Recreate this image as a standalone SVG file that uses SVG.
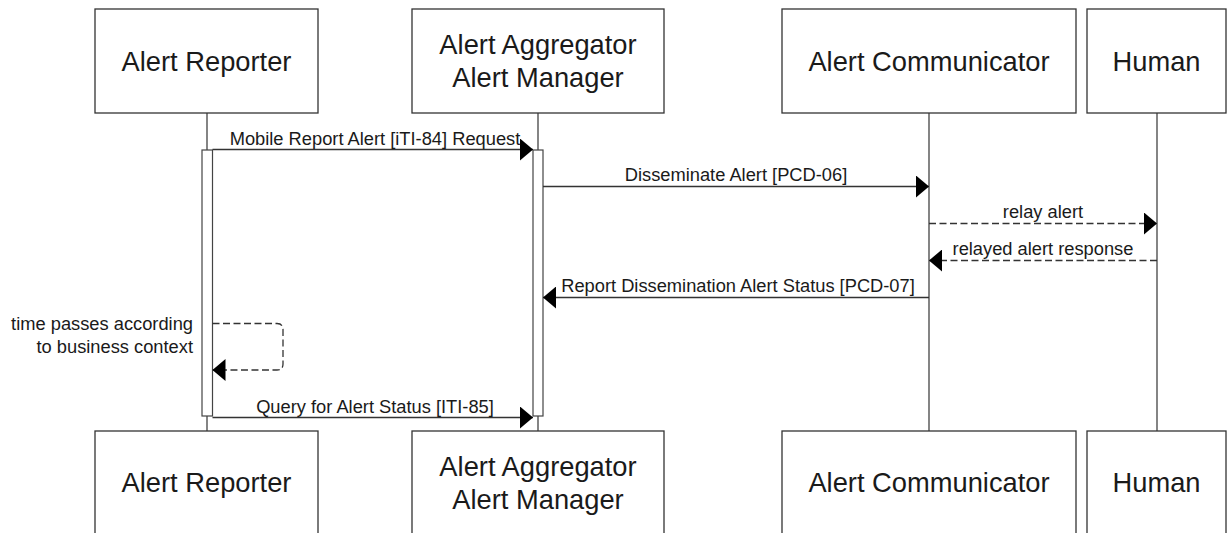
<svg xmlns="http://www.w3.org/2000/svg" width="1227" height="533" viewBox="0 0 1227 533">
<style>
.box{fill:#fff;stroke:#333;stroke-width:1.3}
.life{stroke:#333;stroke-width:1.2;fill:none}
.bar{fill:#fff;stroke:#444;stroke-width:1.2}
.msg{stroke:#333;stroke-width:1.3;fill:none}
.dash{stroke-dasharray:7 3.5}
.bt{font-family:"Liberation Sans",Arial,sans-serif;font-size:27.3px;fill:#1a1a1a;text-anchor:middle}
.lt{font-family:"Liberation Sans",Arial,sans-serif;font-size:18.3px;fill:#1a1a1a;text-anchor:middle}
</style>
<defs>
<marker id="ah" markerUnits="userSpaceOnUse" markerWidth="13" markerHeight="22" refX="13" refY="11" orient="auto" viewBox="0 0 13 22">
<path d="M0,0 L13,11 L0,22 Z" fill="#000"/>
</marker>
</defs>
<rect width="1227" height="533" fill="#fff"/>
<g id="lifelines">
<line class="life" x1="207" y1="113" x2="207" y2="431"/>
<line class="life" x1="538" y1="113" x2="538" y2="431"/>
<line class="life" x1="929" y1="113" x2="929" y2="431"/>
<line class="life" x1="1157" y1="113" x2="1157" y2="431"/>
</g>
<g id="activations">
<rect class="bar" x="202" y="150" width="10.5" height="266"/>
<rect class="bar" x="533" y="150" width="10" height="266"/>
</g>
<g id="reporter-top"><rect class="box" x="95" y="9" width="223" height="104"/><text class="bt" x="206.5" y="71">Alert Reporter</text></g>
<g id="aggregator-top"><rect class="box" x="412" y="9" width="252" height="104"/><text class="bt" x="538" y="54">Alert Aggregator</text><text class="bt" x="538" y="87">Alert Manager</text></g>
<g id="communicator-top"><rect class="box" x="782" y="9" width="294" height="104"/><text class="bt" x="929" y="71">Alert Communicator</text></g>
<g id="human-top"><rect class="box" x="1087" y="9" width="139" height="104"/><text class="bt" x="1156.5" y="71">Human</text></g>
<g id="reporter-bottom"><rect class="box" x="95" y="431" width="223" height="104"/><text class="bt" x="206.5" y="492">Alert Reporter</text></g>
<g id="aggregator-bottom"><rect class="box" x="412" y="431" width="252" height="104"/><text class="bt" x="538" y="476">Alert Aggregator</text><text class="bt" x="538" y="509">Alert Manager</text></g>
<g id="communicator-bottom"><rect class="box" x="782" y="431" width="294" height="104"/><text class="bt" x="929" y="492">Alert Communicator</text></g>
<g id="human-bottom"><rect class="box" x="1087" y="431" width="139" height="104"/><text class="bt" x="1156.5" y="492">Human</text></g>
<g id="connectors">
<line class="msg" x1="212.5" y1="149.5" x2="533" y2="149.5" marker-end="url(#ah)"/>
<text class="lt" x="375" y="145">Mobile Report Alert [iTI-84] Request</text>
<line class="msg" x1="543" y1="186.5" x2="929" y2="186.5" marker-end="url(#ah)"/>
<text class="lt" x="736" y="181">Disseminate Alert [PCD-06]</text>
<line class="msg dash" x1="929" y1="223.5" x2="1157" y2="223.5" marker-end="url(#ah)"/>
<text class="lt" x="1043" y="218">relay alert</text>
<line class="msg dash" x1="1157" y1="260.5" x2="929" y2="260.5" marker-end="url(#ah)"/>
<text class="lt" x="1043" y="255">relayed alert response</text>
<line class="msg" x1="929" y1="297.5" x2="543" y2="297.5" marker-end="url(#ah)"/>
<text class="lt" x="738" y="292">Report Dissemination Alert Status [PCD-07]</text>
<path class="msg dash" d="M212.5,323.5 H277 Q283,323.5 283,329.5 V364 Q283,370 277,370 H212.5" marker-end="url(#ah)"/>
<text class="lt" x="193" y="330" style="text-anchor:end">time passes according</text>
<text class="lt" x="193" y="353" style="text-anchor:end">to business context</text>
<line class="msg" x1="212.5" y1="417.5" x2="533" y2="417.5" marker-end="url(#ah)"/>
<text class="lt" x="375" y="413">Query for Alert Status [ITI-85]</text>
</g>
</svg>
